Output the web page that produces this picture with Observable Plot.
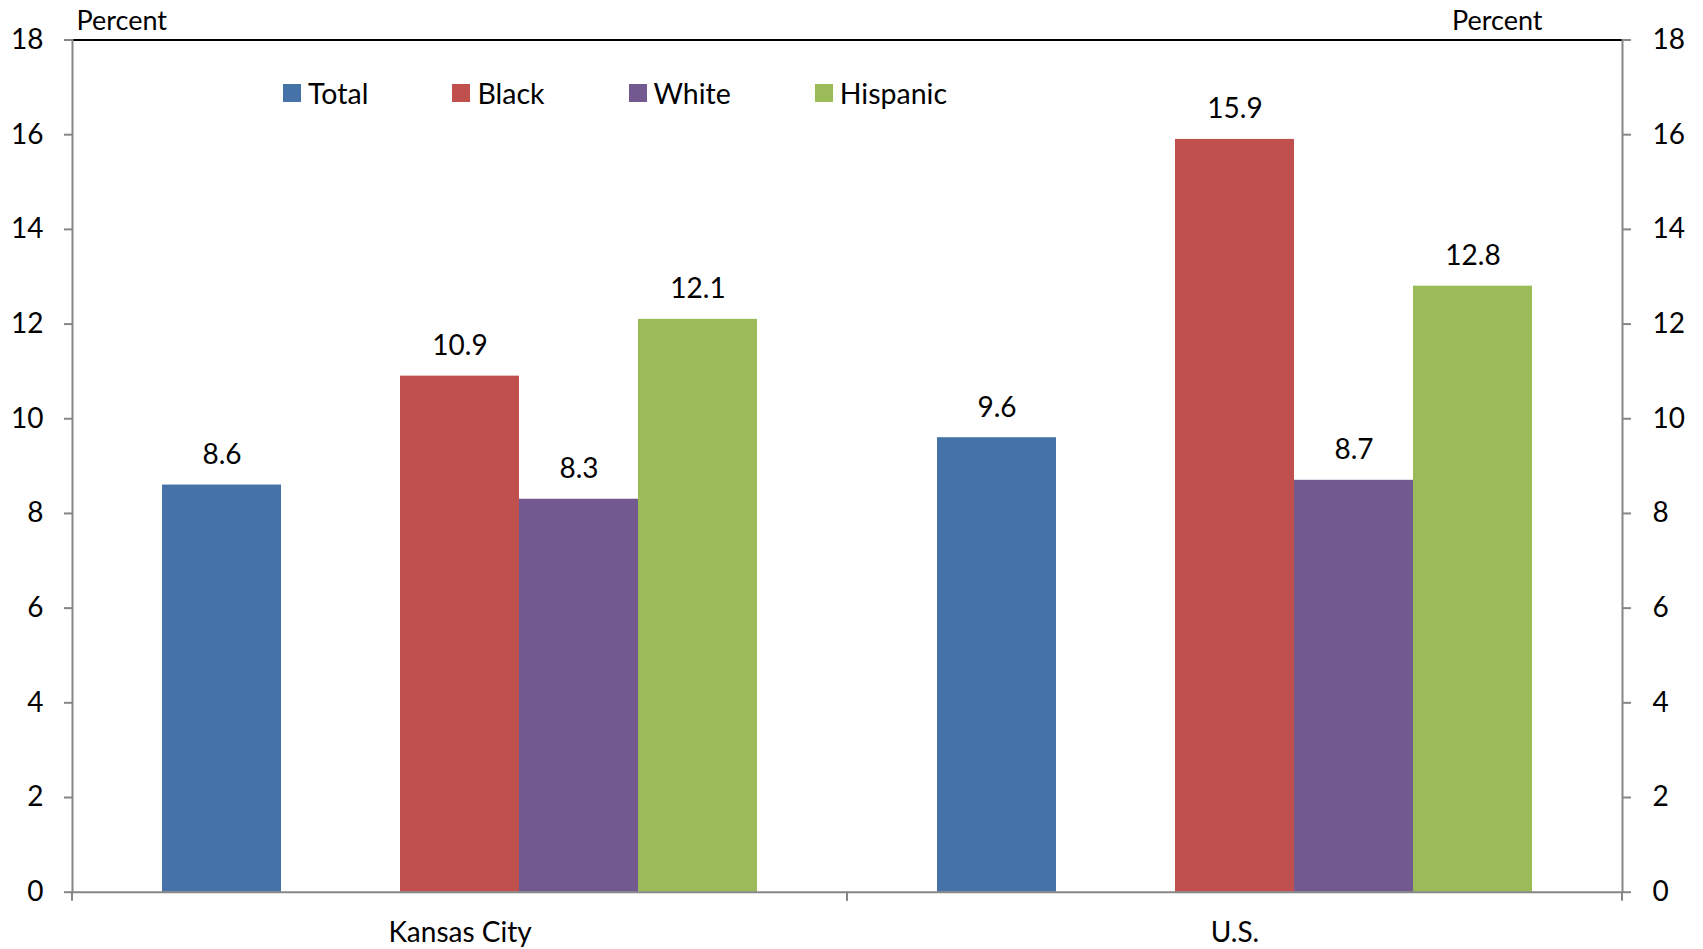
<!DOCTYPE html>
<html>
<head>
<meta charset="utf-8">
<script src="https://cdn.jsdelivr.net/npm/d3@7"></script>
<script src="https://cdn.jsdelivr.net/npm/@observablehq/plot@0.6"></script>
<style>
  html, body { margin: 0; padding: 0; background: #fff; }
  #wrap { position: relative; width: 1703px; height: 949px; font-family: Lato, "Open Sans", sans-serif; }
  #legend { position: absolute; left: 283px; top: 93px; transform: translateY(-50%); }
  #legend .lg-swatches { margin: 0; min-height: 0; }
  #legend .lg-swatch { margin-right: 84px; }
  #legend .lg-swatch > svg { margin-right: 7px; }
</style>
</head>
<body>
<div id="wrap"></div>
<script>
// ---- data ----
const regions = ["Kansas City", "U.S."];
const groups = ["Total", "Black", "White", "Hispanic"];
const kansasCity = [8.6, 10.9, 8.3, 12.1];
const unitedStates = [9.6, 15.9, 8.7, 12.8];
const yTicks = [0, 2, 4, 6, 8, 10, 12, 14, 16, 18];
const yLabel = "Percent";
const colors = ["#4573A7", "#C0504D", "#72598F", "#9BBB59"];
const spacer = " "; // empty slot between Total and the other bars

const seriesByRegion = [kansasCity, unitedStates];
const rows = regions.flatMap((region, i) =>
  groups.map((group, j) => ({region, group, value: seriesByRegion[i][j]}))
);

const axisGray = "#868686";

// small ticks at the group boundaries on the category axis
function boundaryTicks(index, scales) {
  const [r0, r1] = scales.x.range();
  const y0 = scales.y(0);
  const g = d3.create("svg:g");
  for (const xv of [r0, r1]) {
    g.append("line")
      .attr("x1", xv).attr("x2", xv)
      .attr("y1", y0).attr("y2", y0 + 9)
      .attr("stroke", axisGray).attr("stroke-width", 2);
  }
  return g.node();
}

const chart = Plot.plot({
  width: 1703,
  height: 949,
  marginLeft: 71,
  marginRight: 81,
  marginTop: 39.5,
  marginBottom: 57.3,
  style: {fontFamily: "Lato, 'Open Sans', sans-serif", color: "#000", background: "#fff"},
  fx: {domain: regions, padding: 0, label: null},
  x: {domain: [groups[0], spacer, ...groups.slice(1)], paddingInner: 0, paddingOuter: 0.745, axis: null},
  y: {domain: [0, 18], label: null, axis: null},
  color: {domain: groups, range: colors},
  marks: [
    Plot.barY(rows, {fx: "region", x: "group", y: "value", fill: "group"}),
    Plot.text(rows, {
      fx: "region", x: "group", y: "value",
      text: (d) => d.value.toFixed(1),
      lineAnchor: "bottom", dy: -21, fontSize: 28, fill: "#000"
    }),
    Plot.ruleY([18], {stroke: "#000", strokeWidth: 2}),
    Plot.ruleY([0], {stroke: axisGray, strokeWidth: 2}),
    Plot.frame({anchor: "left", facetAnchor: "left", stroke: axisGray, strokeWidth: 2}),
    Plot.frame({anchor: "right", facetAnchor: "right", stroke: axisGray, strokeWidth: 2}),
    boundaryTicks,
    Plot.axisY({anchor: "left", ticks: yTicks, tickSize: 8, tickPadding: 21, fontSize: 28, stroke: axisGray, strokeWidth: 2, label: null}),
    Plot.axisY({anchor: "right", ticks: yTicks, tickSize: 8, tickPadding: 22, fontSize: 28, stroke: axisGray, strokeWidth: 2, label: null}),
    Plot.axisFx({anchor: "bottom", tickSize: 0, tickPadding: 30, fontSize: 28, label: null}),
    Plot.text([yLabel], {frameAnchor: "top-left", facetAnchor: "left", textAnchor: "start", lineAnchor: "bottom", dx: 4, dy: -10, fontSize: 27, fill: "#000"}),
    Plot.text([yLabel], {frameAnchor: "top-right", facetAnchor: "right", textAnchor: "end", lineAnchor: "bottom", dx: -80, dy: -10, fontSize: 27, fill: "#000"})
  ]
});

const wrap = document.getElementById("wrap");
wrap.appendChild(chart);

const legend = Plot.legend({
  color: {domain: groups, range: colors},
  legend: "swatches",
  className: "lg",
  swatchSize: 18,
  style: {fontSize: "28.5px", fontFamily: "Lato, 'Open Sans', sans-serif", color: "#000"}
});
const legendBox = document.createElement("div");
legendBox.id = "legend";
legendBox.appendChild(legend);
wrap.appendChild(legendBox);
</script>
</body>
</html>
